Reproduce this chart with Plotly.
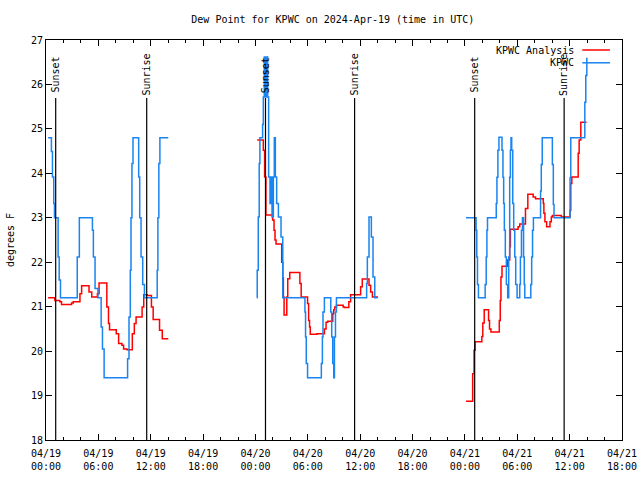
import plotly.graph_objects as go

# hours since 2024-04-19 00:00 UTC
OBS_NAME = "KPWC"
ANA_NAME = "KPWC Analysis"

obs_hours = [0.24, 0.62, 0.74, 0.89, 0.97, 1.39, 1.51, 1.66, 3.58, 3.82, 5.32, 5.43, 5.62, 5.95, 6.32, 6.47, 6.66,
             9.35, 9.51, 9.66, 9.74, 9.85, 9.97, 10.62, 10.74, 10.89, 11.08, 11.28, 12.74, 12.82, 12.93, 13.05, 14.01,
             None,
             24.17, 24.2, 24.32, 24.43, 24.51, 24.82, 24.9, 25.01, 25.16, 25.28, 25.4, 25.51, 25.67, 25.78, 25.9,
             26.05, 26.16, 26.28, 26.43, 26.63, 26.93, 27.13, 29.67, 29.74, 29.82, 29.97, 31.55, 31.67, 31.74, 31.9,
             32.63, 32.74, 32.86, 32.97, 33.05, 33.17, 33.28, 36.74, 36.82, 37.01, 37.28, 37.47, 37.67, 37.97,
             None,
             48.13, 49.28, 49.36, 49.44, 49.55, 50.32, 50.44, 50.52, 50.59, 51.59, 51.67, 51.78, 51.9, 52.25, 52.36,
             52.44, 52.52, 52.63, 52.75, 52.9, 53.02, 53.13, 53.21, 53.28, 53.36, 53.48, 53.59, 53.71, 53.82, 53.98,
             54.28, 54.36, 54.48, 54.59, 54.72, 54.8, 54.86, 55.55, 55.65, 55.75, 55.85, 56.67, 56.75, 56.86, 56.98,
             58.02, 58.13, 58.21, 60.05, 60.13, 60.25, 61.74, 61.85, 61.97]
obs_values = [24.8, 24.49, 23.92, 23.32, 23.0, 22.12, 21.6, 21.2, 22.12, 23.0, 22.72, 22.12, 21.41, 21.2, 20.54, 20.05, 19.4,
              19.83, 20.77, 21.82, 23.0, 24.22, 24.8, 23.92, 23.0, 22.12, 21.5, 21.2, 21.82, 23.0, 24.22, 24.8, 24.8,
              None,
              21.2, 21.82, 23.02, 24.22, 24.8, 25.1, 25.72, 26.62, 25.72, 26.62, 25.72, 23.92, 23.32, 23.92, 23.02,
              23.92, 24.8, 23.92, 23.32, 23.02, 22.57, 21.2, 20.88, 20.32, 19.72, 19.4, 19.72, 20.32, 20.88, 21.2,
              20.88, 20.32, 19.72, 19.4, 20.32, 20.88, 21.2, 21.52, 22.12, 23.02, 22.57, 21.67, 21.2, 21.2,
              None,
              23.0, 22.72, 22.12, 21.5, 21.2, 21.5, 22.12, 22.72, 23.0, 23.32, 23.91, 24.52, 24.81, 24.52, 23.91,
              23.32, 22.72, 22.12, 21.5, 21.2, 22.12, 23.91, 24.52, 24.8, 24.52, 23.32, 22.72, 22.12, 21.5, 21.2,
              21.5, 22.12, 22.72, 23.0, 22.12, 21.5, 21.2, 21.5, 22.12, 22.72, 23.0, 23.6, 24.2, 24.8, 24.8,
              24.2, 23.3, 23.0, 23.9, 24.8, 24.8, 25.6, 26.2, 26.6]

ana_hours = [0.24, 1.01, 1.58, 1.78, 2.93, 3.12, 3.89, 4.08, 4.93, 5.24, 5.89, 6.08, 6.97, 7.16, 7.28, 8.05, 8.32,
             8.7, 8.89, 9.28, 9.89, 10.12, 10.32, 11.01, 11.2, 11.58, 12.08, 12.28, 13.01, 13.32, 14.01,
             None,
             24.2, 24.9, 25.05, 25.2, 25.97, 26.13, 26.24, 26.36, 27.01, 27.13, 27.2, 27.28, 27.59, 27.7, 27.93,
             29.09, 29.24, 29.97, 30.09, 30.2, 30.28, 31.05, 31.9, 32.09, 32.28, 32.86, 32.97, 33.09, 33.28, 34.05,
             34.2, 34.7, 34.9, 36.05, 36.24, 37.01, 37.2, 37.4, 38.05,
             None,
             48.13, 48.89, 49.05, 49.17, 49.94, 50.05, 50.21, 50.71, 50.82, 50.98, 51.94, 52.05, 52.13, 52.25, 52.9,
             53.13, 53.21, 54.09, 54.28, 54.94, 55.21, 55.82, 56.09, 56.98, 57.05, 57.17, 57.36, 57.75, 57.9, 58.02,
             59.05, 60.05, 60.13, 60.25, 60.98, 61.09, 61.28, 61.94]
ana_values = [21.2, 21.14, 21.11, 21.05, 21.08, 21.11, 21.29, 21.47, 21.33, 21.22, 21.29, 21.53, 20.99, 20.62, 20.48, 20.39, 20.17,
              20.13, 20.05, 20.03, 20.39, 20.62, 20.77, 20.99, 21.27, 21.25, 20.99, 20.71, 20.47, 20.28, 20.28,
              None,
              24.75, 24.52, 23.92, 23.06, 22.95, 22.72, 22.5, 22.41, 22.0, 21.65, 21.22, 20.81, 21.22, 21.63, 21.77,
              21.52, 21.22, 21.07, 20.69, 20.54, 20.38, 20.39, 20.5, 20.65, 20.67, 20.84, 20.93, 20.99, 21.03, 20.99,
              20.98, 21.11, 21.27, 21.45, 21.62, 21.48, 21.33, 21.22, 21.22,
              None,
              18.87, 19.49, 20.02, 20.21, 20.33, 20.63, 20.93, 20.69, 20.5, 20.43, 20.69, 21.14, 21.67, 21.91, 22.05,
              22.35, 22.74, 22.8, 22.86, 23.21, 23.53, 23.47, 23.43, 23.32, 23.1, 22.91, 22.8, 22.91, 23.02, 23.05,
              23.02, 23.17, 23.77, 23.92, 24.45, 24.75, 25.15, 25.15]

sun_hours = [1.11, 11.54, 25.15, 35.36, 49.12, 59.37]
sun_labels = ["Sunset", "Sunrise", "Sunset", "Sunrise", "Sunset", "Sunrise"]

tick_hours = [0, 6, 12, 18, 24, 30, 36, 42, 48, 54, 60, 66]
tick_labels = ["04/19<br>00:00", "04/19<br>06:00", "04/19<br>12:00", "04/19<br>18:00",
               "04/20<br>00:00", "04/20<br>06:00", "04/20<br>12:00", "04/20<br>18:00",
               "04/21<br>00:00", "04/21<br>06:00", "04/21<br>12:00", "04/21<br>18:00"]

TITLE = "Dew Point for KPWC on 2024-Apr-19 (time in UTC)"
FONT = "DejaVu Sans Mono"
RED = "#ff0000"
BLUE = "#1a84f0"

fig = go.Figure()
fig.add_trace(go.Scatter(x=ana_hours, y=ana_values, mode="lines", line=dict(color=RED, width=1.5, shape="hv"),
                         name=ANA_NAME, connectgaps=False))
fig.add_trace(go.Scatter(x=obs_hours, y=obs_values, mode="lines", line=dict(color=BLUE, width=1.5, shape="hv"),
                         name=OBS_NAME, connectgaps=False))

for t, lab in zip(sun_hours, sun_labels):
    fig.add_shape(type="line", xref="x", yref="paper", x0=t, x1=t, y0=0, y1=0.855,
                  line=dict(color="black", width=1.2))
    fig.add_annotation(x=t, xref="x", y=0.913, yref="paper", text=lab, textangle=-90, showarrow=False,
                       font=dict(family=FONT, size=10, color="black"), xanchor="center", yanchor="middle")

# legend (text left, sample right, gnuplot style)
for i, (name, col) in enumerate([(ANA_NAME, RED), (OBS_NAME, BLUE)]):
    yp = 0.975 - i * 0.032
    fig.add_annotation(x=0.92, xref="paper", y=yp, yref="paper", text=name, showarrow=False,
                       xanchor="right", yanchor="middle", font=dict(family=FONT, size=10, color="black"),
                       bgcolor="rgba(0,0,0,0)")
    fig.add_shape(type="line", xref="paper", yref="paper", x0=0.931, x1=0.979, y0=yp, y1=yp,
                  line=dict(color=col, width=1.5))

fig.update_layout(
    width=640, height=480,
    margin=dict(l=46, r=18, t=40, b=40, autoexpand=False),
    paper_bgcolor="white", plot_bgcolor="white",
    showlegend=False,
    title=dict(text=TITLE, x=0.52, xanchor="center", y=0.96, yanchor="middle",
               font=dict(family=FONT, size=10, color="black")),
    font=dict(family=FONT, size=10, color="black"),
)
fig.update_xaxes(range=[0, 66], tickmode="array", tickvals=tick_hours, ticktext=tick_labels, automargin=False,
                 ticks="inside", ticklen=6, tickcolor="black", mirror="allticks", showline=True,
                 linecolor="black", linewidth=1, showgrid=False, zeroline=False, ticklabelstandoff=4,
                 minor=dict(tick0=0, dtick=2, ticks="inside", ticklen=3, tickcolor="black", showgrid=False),
                 tickfont=dict(family=FONT, size=10, color="black"))
fig.update_yaxes(range=[18, 27], dtick=1, ticks="inside", ticklen=6, tickcolor="black", mirror="allticks",
                 showline=True, linecolor="black", linewidth=1, showgrid=False, zeroline=False, automargin=False,
                 title=dict(text="degrees F", font=dict(family=FONT, size=10, color="black"), standoff=14),
                 tickfont=dict(family=FONT, size=10, color="black"))

fig.write_html("out.html", config={"displayModeBar": False},
               post_script="document.body.style.margin='0';")
